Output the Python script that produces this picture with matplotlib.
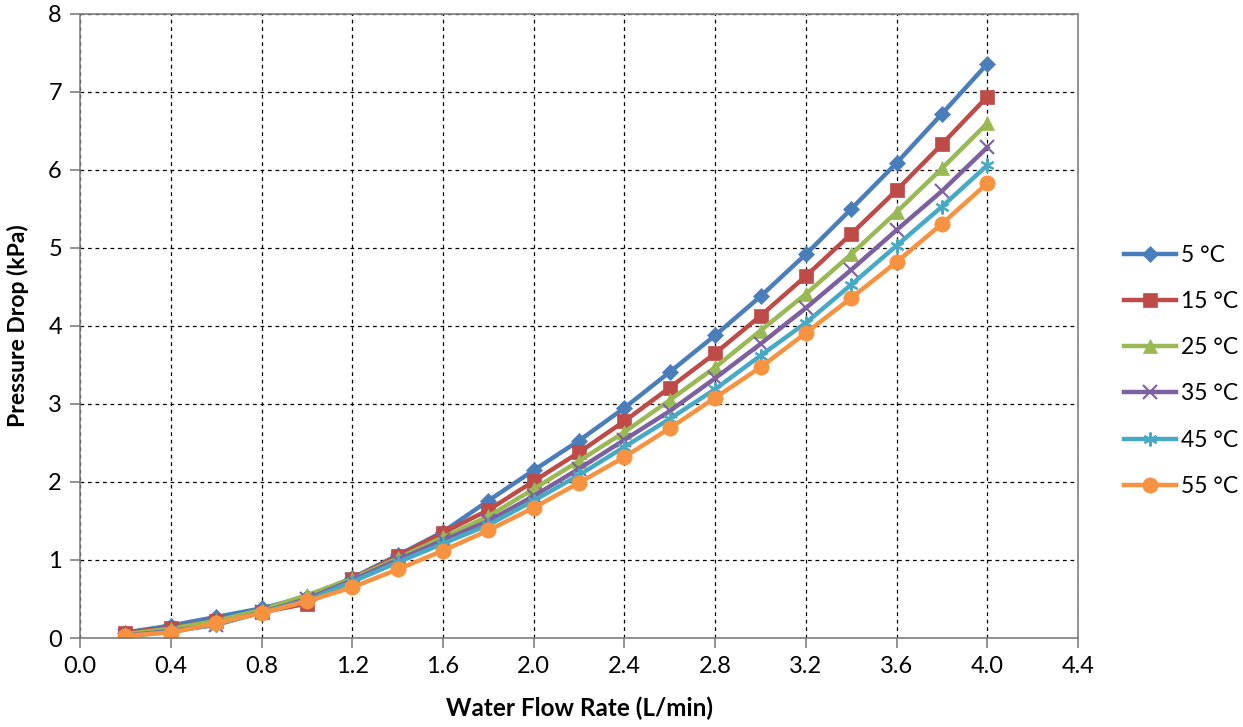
import matplotlib
matplotlib.use('Agg')
import matplotlib.pyplot as plt
import numpy as np

flow = [0.2, 0.4, 0.6, 0.8, 1.0, 1.2, 1.4, 1.6, 1.8, 2.0,
        2.2, 2.4, 2.6, 2.8, 3.0, 3.2, 3.4, 3.6, 3.8, 4.0]

dp_5 = [0.07, 0.16, 0.27, 0.38, 0.53, 0.77, 1.06, 1.36, 1.76, 2.15,
        2.53, 2.95, 3.41, 3.88, 4.38, 4.92, 5.50, 6.09, 6.72, 7.36]
dp_15 = [0.07, 0.13, 0.22, 0.33, 0.44, 0.76, 1.05, 1.35, 1.64, 2.01,
         2.38, 2.78, 3.21, 3.65, 4.13, 4.64, 5.18, 5.74, 6.33, 6.94]
dp_25 = [0.05, 0.12, 0.22, 0.36, 0.55, 0.76, 1.02, 1.29, 1.56, 1.91,
         2.27, 2.64, 3.05, 3.47, 3.94, 4.41, 4.92, 5.46, 6.02, 6.60]
dp_35 = [0.03, 0.09, 0.17, 0.33, 0.50, 0.74, 1.00, 1.25, 1.50, 1.82,
         2.17, 2.54, 2.91, 3.33, 3.77, 4.23, 4.72, 5.23, 5.73, 6.29]
dp_45 = [0.02, 0.08, 0.17, 0.33, 0.48, 0.72, 0.97, 1.21, 1.45, 1.76,
         2.09, 2.45, 2.81, 3.19, 3.62, 4.04, 4.53, 5.03, 5.53, 6.06]
dp_55 = [0.03, 0.07, 0.19, 0.32, 0.47, 0.65, 0.88, 1.12, 1.38, 1.67,
         1.99, 2.32, 2.69, 3.08, 3.47, 3.91, 4.36, 4.82, 5.31, 5.83]

labels = ['5 °C', '15 °C', '25 °C', '35 °C', '45 °C', '55 °C']
series = [dp_5, dp_15, dp_25, dp_35, dp_45, dp_55]
colors = ['#4A7EBB', '#BE4B48', '#98B954', '#7D60A0', '#46AAC5', '#F69240']
markers = ['D', 's', '^', 'x', (6, 2, 0), 'o']
msizes = [8, 10, 10, 10, 10, 11]

plt.rcParams['font.family'] = ['Lato', 'DejaVu Sans']

fig = plt.figure(figsize=(12.43, 7.27), dpi=100)
ax = fig.add_axes([0.0644, 0.1224, 0.8030, 0.8586])

for y, lab, c, m, ms in zip(series, labels, colors, markers, msizes):
    ax.plot(flow, y, color=c, lw=3.2, marker=m, markersize=ms,
            markeredgewidth=1.5 if m in ('x', (6, 2, 0)) else 0.5,
            markeredgecolor=c, label=lab)

ax.set_xlim(0, 4.4)
ax.set_ylim(0, 8)
ax.set_xticks(np.arange(0, 4.41, 0.4))
ax.set_xticklabels(['%.1f' % v for v in np.arange(0, 4.41, 0.4)])
ax.set_yticks(range(0, 9))
ax.grid(True, color='black', linestyle=(0, (3, 3)), lw=0.9)
ax.set_axisbelow(True)
for s in ax.spines.values():
    s.set_color('#7F7F7F')
    s.set_linewidth(1.2)
ax.tick_params(labelsize=17, length=7, color='#7F7F7F', width=1.2, pad=6)

ax.set_xlabel('Water Flow Rate (L/min)', fontsize=17.5, fontweight='bold', labelpad=14)
ax.set_ylabel('Pressure Drop (kPa)', fontsize=16.5, fontweight='bold', labelpad=14)

ax.legend(loc='center left', bbox_to_anchor=(1.025, 0.428), frameon=False,
          fontsize=16.5, labelspacing=1.1, handlelength=2.3, handletextpad=0.2)

fig.savefig('out.png', dpi=100)
